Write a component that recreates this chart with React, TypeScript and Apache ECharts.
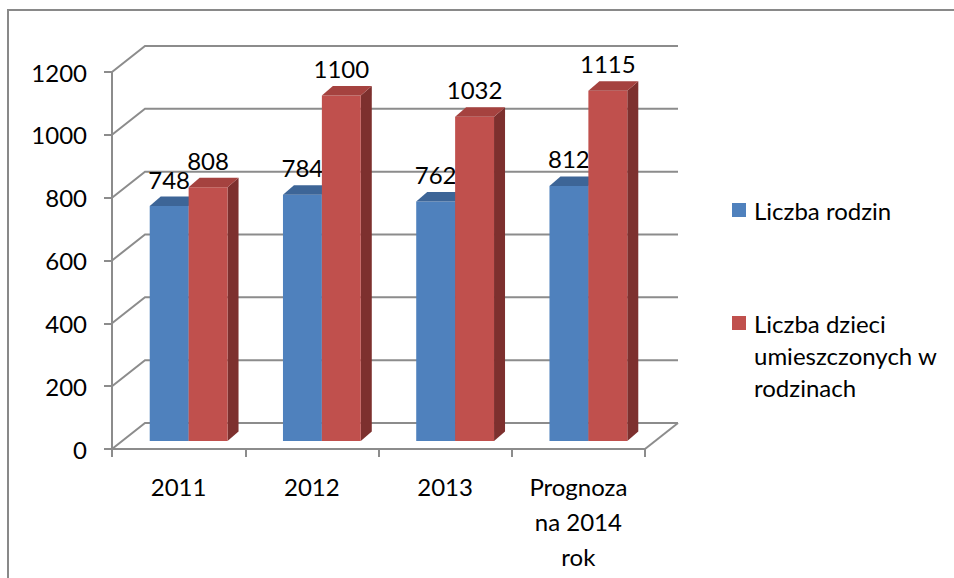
import React, { useEffect, useRef } from "react";
import * as echarts from "echarts";

const categories = ["2011", "2012", "2013", "Prognoza\nna 2014\nrok"];
const liczbaRodzin = [748, 784, 762, 812];
const liczbaDzieci = [808, 1100, 1032, 1115];
const seriesNames = ["Liczba rodzin", "Liczba dzieci\numieszczonych w\nrodzinach"];
const yTickValues = [0, 200, 400, 600, 800, 1000, 1200];
const Y_MIN = 0;
const Y_MAX = 1200;
const Y_STEP = 200;

const FONT = "Lato, 'Noto Sans', sans-serif";
const FS = 24;
const GRID_COLOR = "#8c8c8c";
// oblique 3D offsets
const BACK_DX = 33;
const BACK_DY = 26;
const BAR_SX = 10;
const BAR_SY = 8;
const BAR_DX = 11;
const BAR_DY = 9.5;

const palette = [
  { front: "#4F81BD", top: "#3D6597", side: "#38598A" },
  { front: "#C0504D", top: "#A5423F", side: "#7D302E" },
];

function makeBarRender(seriesIdx: number) {
  return (params: any, api: any) => {
    const cat = api.value(0);
    const val = api.value(1);
    const base = api.coord([cat, 0]);
    const top = api.coord([cat, val]);
    const band = api.size([1, 0])[0];
    const w = band * 0.292;
    const cx = base[0] + BAR_SX;
    const left = seriesIdx === 0 ? cx - w : cx;
    const right = left + w;
    const y0 = base[1] - BAR_SY;
    const y1 = top[1] - BAR_SY;
    const c = palette[seriesIdx];
    return {
      type: "group",
      children: [
        {
          type: "polygon",
          shape: {
            points: [
              [right, y1],
              [right + BAR_DX, y1 - BAR_DY],
              [right + BAR_DX, y0 - BAR_DY],
              [right, y0],
            ],
          },
          style: { fill: c.side },
        },
        {
          type: "rect",
          shape: { x: left, y: y1, width: w, height: y0 - y1 },
          style: { fill: c.front },
        },
        {
          type: "polygon",
          shape: {
            points: [
              [left, y1],
              [left + BAR_DX, y1 - BAR_DY],
              [right + BAR_DX, y1 - BAR_DY],
              [right, y1],
            ],
          },
          style: { fill: c.top },
        },
        {
          type: "text",
          style: {
            text: String(val),
            x: (left + right) / 2,
            y: y1 - 27,
            align: "center",
            verticalAlign: "middle",
            fontSize: FS,
            fontFamily: FONT,
            fill: "#000",
          },
        },
      ],
    };
  };
}

function gridRender(params: any, api: any) {
  const cs = params.coordSys;
  const v = api.value(1);
  const y = api.coord([0, v])[1];
  const L = cs.x;
  const R = cs.x + cs.width;
  const children: any[] = [
    {
      type: "polyline",
      shape: {
        points: [
          [L, y],
          [L + BACK_DX, y - BACK_DY],
          [R + BACK_DX, y - BACK_DY],
        ],
      },
      style: { stroke: GRID_COLOR, lineWidth: 2, fill: null },
    },
  ];
  if (v === Y_MIN) {
    children.push({
      type: "line",
      shape: { x1: R, y1: y, x2: R + BACK_DX, y2: y - BACK_DY },
      style: { stroke: GRID_COLOR, lineWidth: 2 },
    });
  }
  return { type: "group", children };
}

export default function App() {
  const ref = useRef<HTMLDivElement>(null);
  useEffect(() => {
    document.body.style.margin = "0";
    const chart = echarts.init(ref.current!, null, { renderer: "svg" });
    chart.setOption({
      animation: false,
      backgroundColor: "#fff",
      grid: { left: 112, top: 72, width: 533, height: 377 },
      xAxis: {
        type: "category",
        data: categories,
        boundaryGap: true,
        axisLine: { show: true, lineStyle: { color: GRID_COLOR, width: 2 } },
        axisTick: { show: true, length: 8, lineStyle: { color: GRID_COLOR, width: 2 } },
        axisLabel: {
          margin: 20,
          fontSize: FS,
          lineHeight: 35,
          fontFamily: FONT,
          color: "#000",
          interval: 0,
        },
        splitLine: { show: false },
      },
      yAxis: {
        type: "value",
        min: Y_MIN,
        max: Y_MAX,
        interval: Y_STEP,
        axisLine: { show: true, lineStyle: { color: GRID_COLOR, width: 2 } },
        axisTick: { show: true, length: 8, lineStyle: { color: GRID_COLOR, width: 2 } },
        axisLabel: {
          margin: 25,
          fontSize: FS,
          fontFamily: FONT,
          color: "#000",
          formatter: (v: number) => String(v),
        },
        splitLine: { show: false },
      },
      graphic: [
        {
          type: "rect",
          shape: { x: 8, y: 10, width: 2000, height: 2000 },
          style: { fill: null, stroke: "#898989", lineWidth: 2 },
          silent: true,
        },
        {
          type: "rect",
          shape: { x: 732, y: 203, width: 14, height: 14 },
          style: { fill: palette[0].front },
        },
        {
          type: "text",
          x: 754,
          y: 210,
          style: {
            text: seriesNames[0],
            fontSize: FS,
            fontFamily: FONT,
            fill: "#000",
            verticalAlign: "middle",
          },
        },
        {
          type: "rect",
          shape: { x: 732, y: 316, width: 14, height: 14 },
          style: { fill: palette[1].front },
        },
        {
          type: "text",
          x: 754,
          y: 307,
          style: {
            text: seriesNames[1],
            fontSize: FS,
            lineHeight: 32,
            fontFamily: FONT,
            fill: "#000",
            verticalAlign: "top",
          },
        },
      ],
      series: [
        {
          type: "custom",
          name: "grid3d",
          z: 1,
          silent: true,
          renderItem: gridRender,
          data: yTickValues.map((v) => [0, v]),
        },
        {
          type: "custom",
          name: seriesNames[0],
          z: 2,
          renderItem: makeBarRender(0),
          data: liczbaRodzin.map((v, i) => [i, v]),
        },
        {
          type: "custom",
          name: seriesNames[1],
          z: 3,
          renderItem: makeBarRender(1),
          data: liczbaDzieci.map((v, i) => [i, v]),
        },
      ],
    });
    return () => chart.dispose();
  }, []);
  return <div ref={ref} style={{ width: 954, height: 578 }} />;
}
